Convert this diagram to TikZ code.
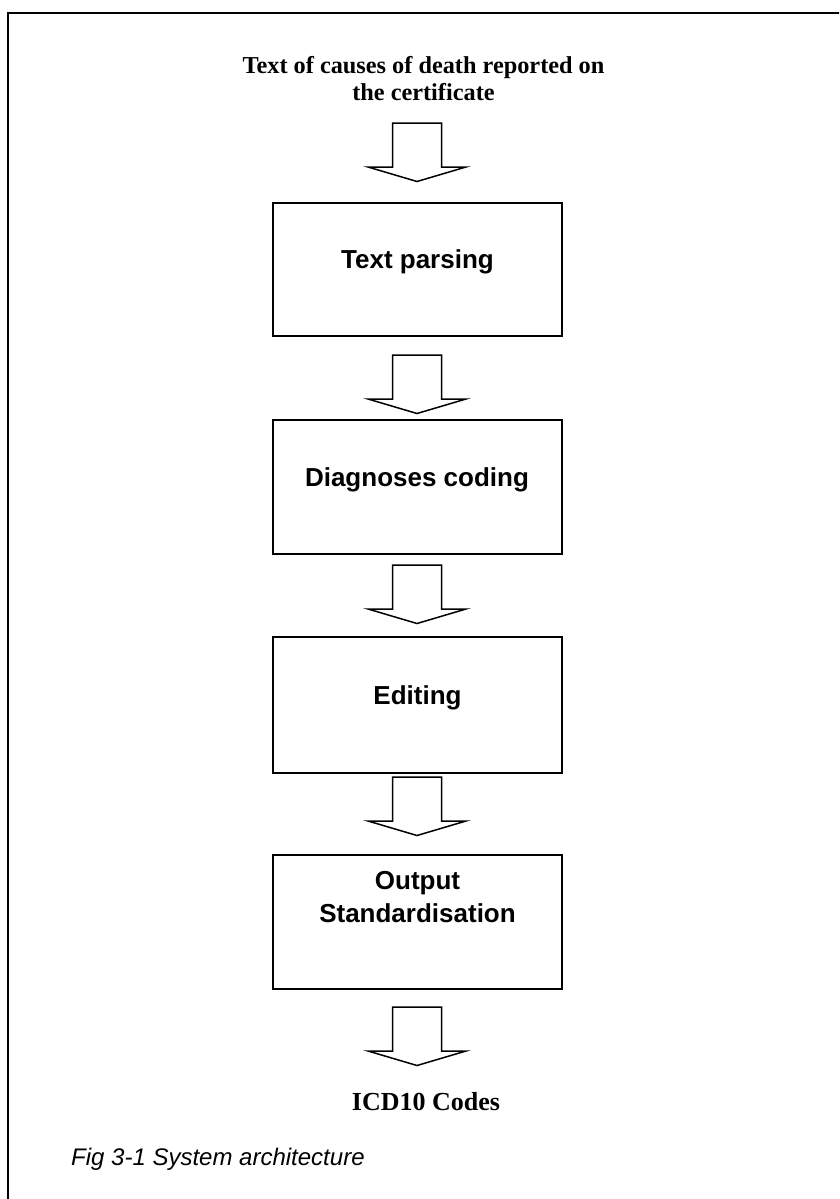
\documentclass[tikz,border=0pt]{standalone}
\usepackage{fontspec}
\setmainfont{Liberation Serif}
\setsansfont{Liberation Sans}
\newcommand{\tightlines}{\lineskiplimit=-50pt\relax}
\begin{document}
\begin{tikzpicture}[x=1pt,y=-1pt,
  procbox/.style={draw, line width=1.6pt, minimum width=289pt, minimum height=133pt, inner sep=0pt, anchor=north},
  boxtext/.style={font=\sffamily\bfseries\fontsize{26}{33}\selectfont\tightlines, anchor=base, inner sep=0pt, align=center},
  serifbold/.style={font=\rmfamily\bfseries\fontsize{24.3}{27}\selectfont\tightlines, anchor=base, inner sep=0pt, align=center},
  blk/.pic={\draw[line width=1.5pt, line join=miter] (-24.5,0) -- (24.5,0) -- (24.5,44) -- (49,44) -- (0,58.5) -- (-49,44) -- (-24.5,44) -- cycle;}
]
\useasboundingbox (0,0) rectangle (839,1199);
\clip (0,0) rectangle (839,1199);
\draw[line width=1.8pt] (8,13) rectangle (860,1220);

\node[serifbold] (src) at (423.5,100) {Text of causes of death reported on\\the certificate};

\node[procbox] (parse) at (417.5,202) {};
\node[procbox, minimum height=134pt] (diag) at (417.5,419) {};
\node[procbox, minimum height=136pt] (edit) at (417.5,636) {};
\node[procbox, minimum height=134pt] (outp) at (417.5,854) {};

\node[boxtext] (tparse) at (417.5,268) {Text parsing};
\node[boxtext] (tdiag) at (417,486) {Diagnoses coding};
\node[boxtext] (tedit) at (417.5,704) {Editing};
\node[boxtext] (toutp) at (417.5,922) {Output\\Standardisation};

\pic at (417,123) {blk};
\pic at (417,355) {blk};
\pic at (417,565) {blk};
\pic at (417,777) {blk};
\pic at (417,1007) {blk};

\node[serifbold, font=\rmfamily\bfseries\fontsize{26}{30}\selectfont] (icd) at (426,1110) {ICD10 Codes};
\node[font=\sffamily\itshape\fontsize{24}{28}\selectfont, anchor=base west, inner sep=0pt] (cap) at (71,1165) {Fig 3-1 System architecture};
\end{tikzpicture}
\end{document}
